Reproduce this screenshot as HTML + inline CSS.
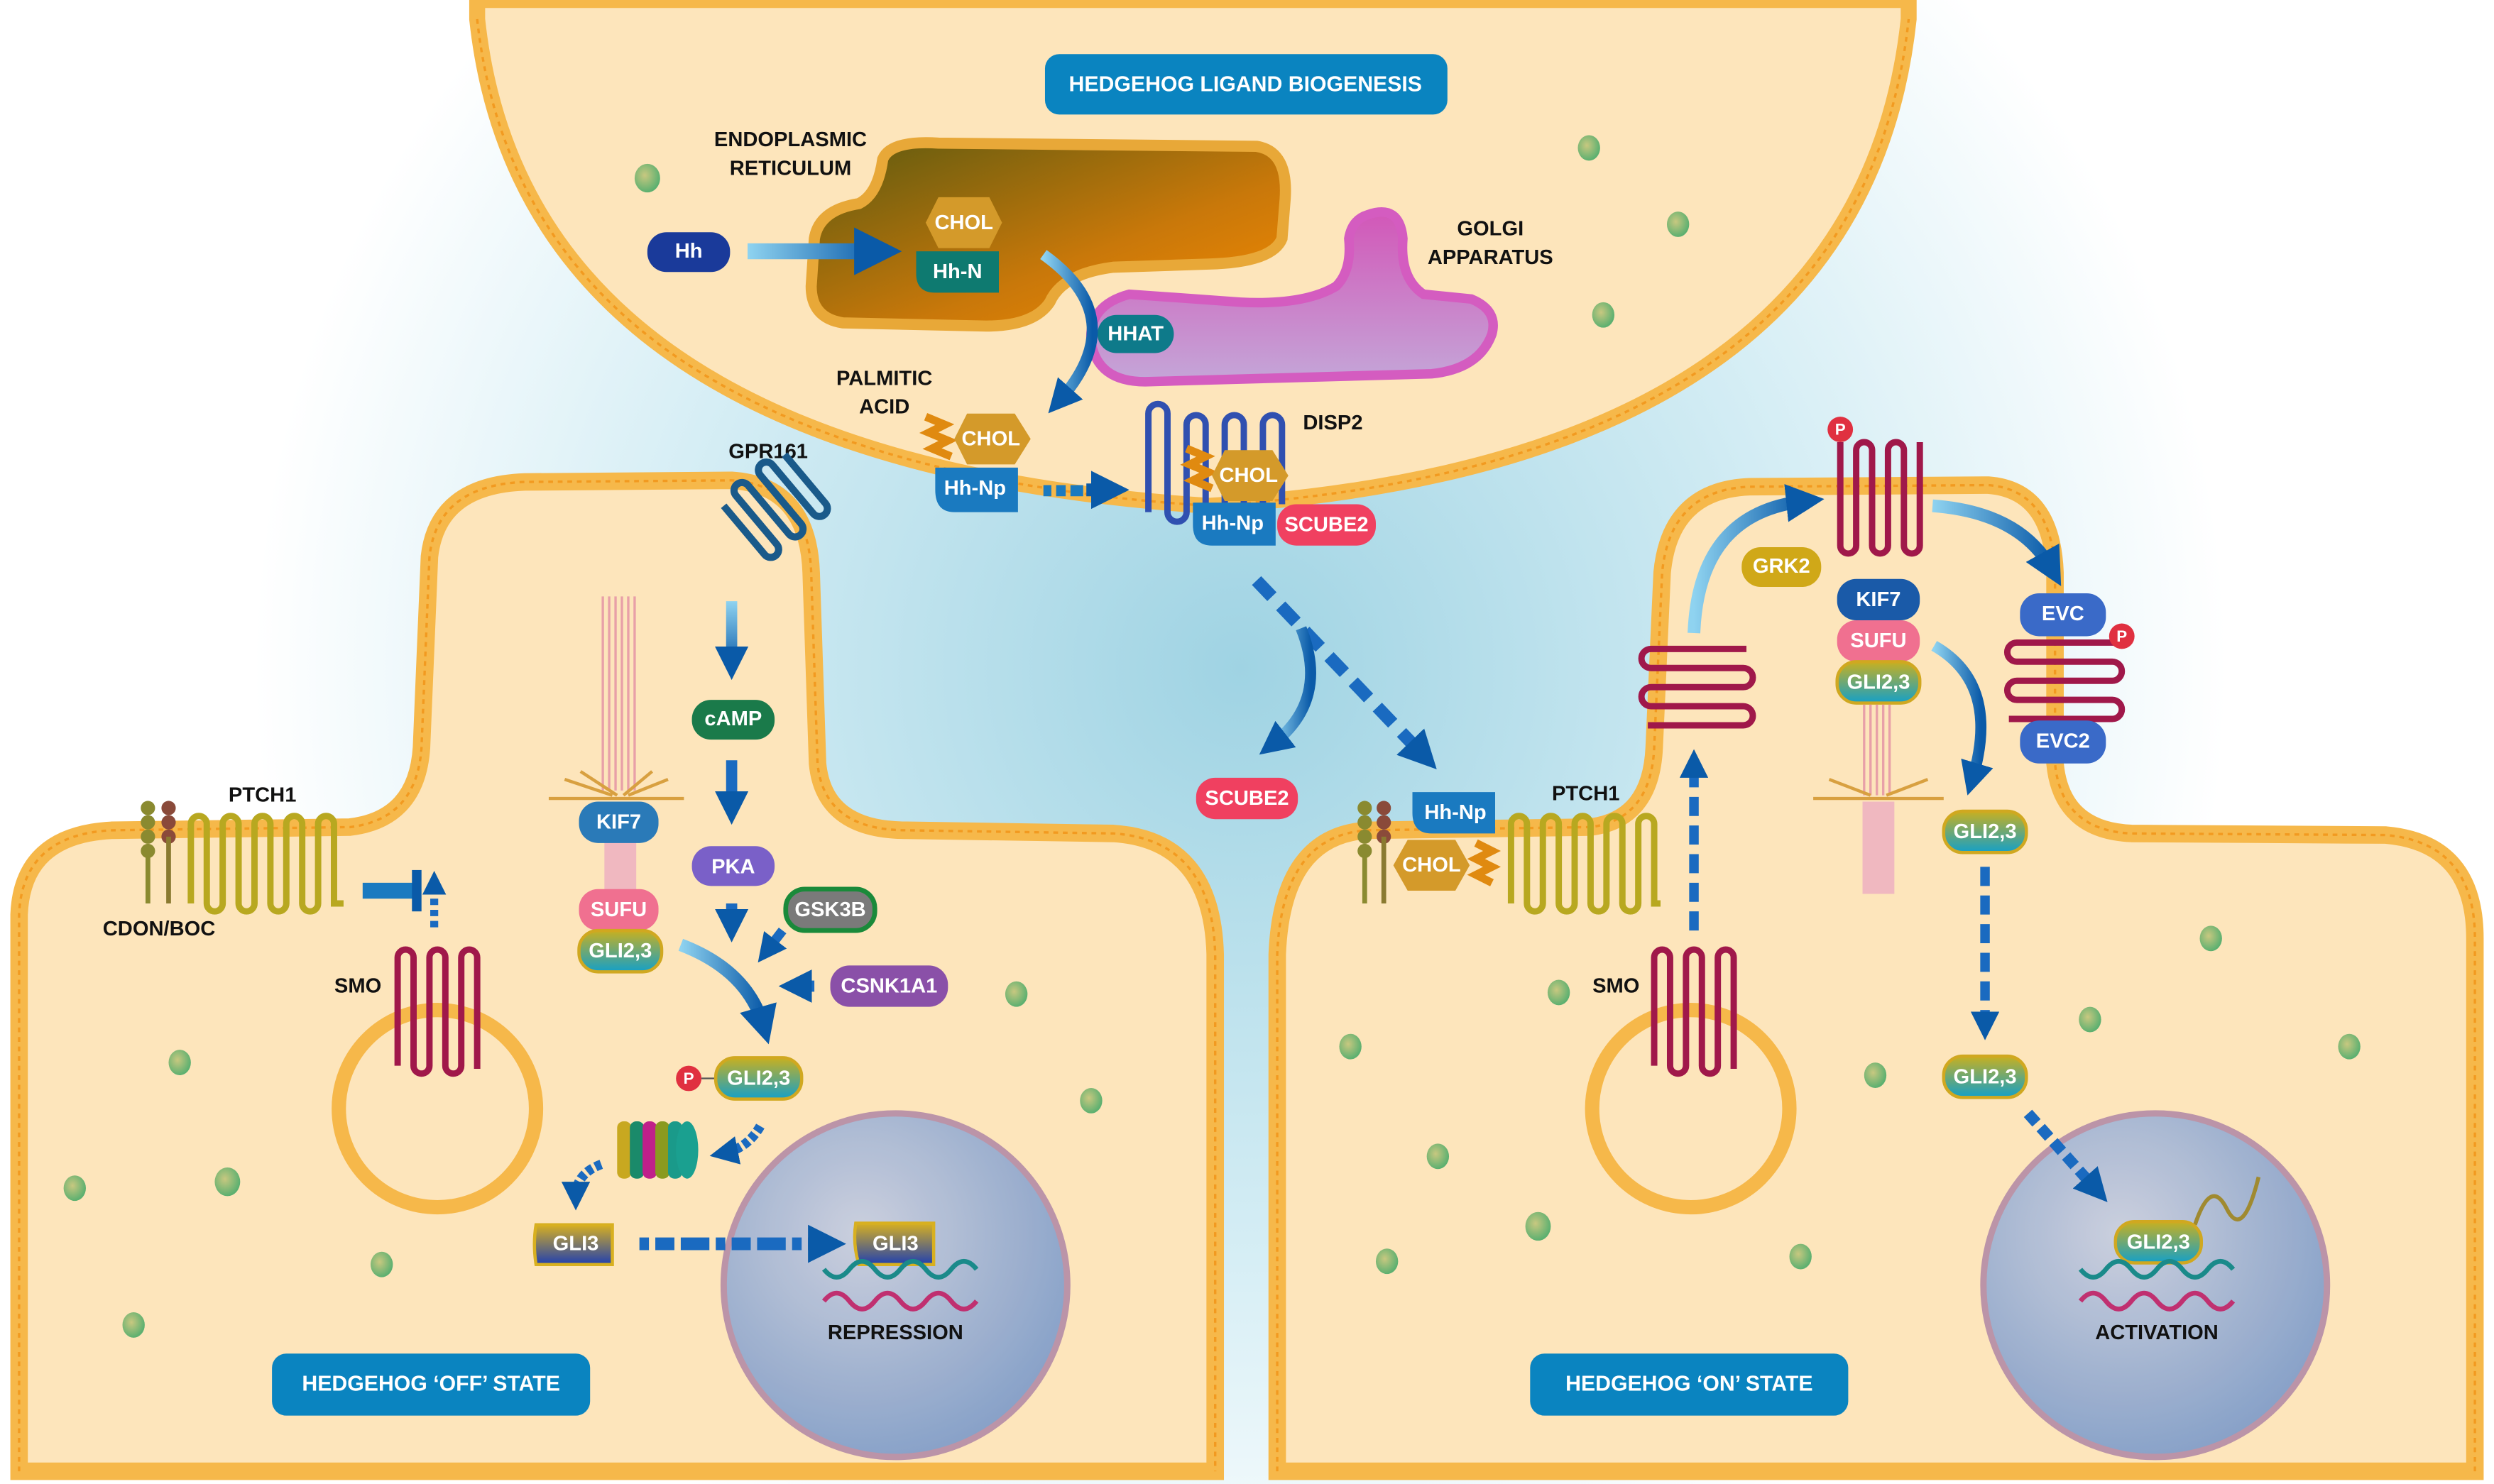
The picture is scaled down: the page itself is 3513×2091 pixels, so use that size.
<!DOCTYPE html>
<html><head><meta charset="utf-8"><style>
html,body{margin:0;padding:0;background:#fff}
svg{display:block}
.t{font-family:"Liberation Sans Narrow","Liberation Sans",sans-serif;font-weight:bold;font-size:13px;fill:#fff;text-anchor:middle;dominant-baseline:central}
.k{font-family:"Liberation Sans Narrow","Liberation Sans",sans-serif;font-weight:bold;font-size:13px;fill:#111;text-anchor:middle}
.b{font-family:"Liberation Sans Narrow","Liberation Sans",sans-serif;font-weight:bold;font-size:13.5px;fill:#fff;text-anchor:middle;dominant-baseline:central}
</style></head><body>
<svg width="3513" height="2091" viewBox="0 0 1568 933" preserveAspectRatio="none" xmlns="http://www.w3.org/2000/svg">
<defs>
<radialGradient id="bg" cx="780" cy="420" r="620" gradientUnits="userSpaceOnUse">
<stop offset="0" stop-color="#9fd3e3"/><stop offset="0.6" stop-color="#d6eef5"/><stop offset="1" stop-color="#ffffff"/></radialGradient>
<radialGradient id="nuc" cx="0.4" cy="0.35" r="0.7"><stop offset="0" stop-color="#c9cfe0"/><stop offset="1" stop-color="#7f9cc8"/></radialGradient>
<linearGradient id="er" x1="0" y1="0" x2="1" y2="1"><stop offset="0" stop-color="#5c5a10"/><stop offset="0.6" stop-color="#c9780a"/><stop offset="1" stop-color="#f58a00"/></linearGradient>
<linearGradient id="go" x1="0" y1="0" x2="0" y2="1"><stop offset="0" stop-color="#d257b8"/><stop offset="1" stop-color="#c4a6d8"/></linearGradient>
<linearGradient id="ar" x1="0" y1="0" x2="1" y2="0"><stop offset="0" stop-color="#8fd3f0"/><stop offset="1" stop-color="#0a5aa8"/></linearGradient>
<linearGradient id="arh" gradientUnits="userSpaceOnUse" x1="470" y1="0" x2="555" y2="0"><stop offset="0" stop-color="#8fd3f0"/><stop offset="1" stop-color="#0a5aa8"/></linearGradient>
<linearGradient id="arv" gradientUnits="userSpaceOnUse" x1="0" y1="378" x2="0" y2="420"><stop offset="0" stop-color="#8fd3f0"/><stop offset="1" stop-color="#0a5aa8"/></linearGradient>
<linearGradient id="gli" x1="0" y1="0" x2="0" y2="1"><stop offset="0" stop-color="#c8b020"/><stop offset="1" stop-color="#14a0c8"/></linearGradient>
<linearGradient id="gli3" x1="0" y1="0" x2="0" y2="1"><stop offset="0" stop-color="#d8b020"/><stop offset="1" stop-color="#2040b0"/></linearGradient>
<radialGradient id="dot" cx="0.4" cy="0.4" r="0.6"><stop offset="0" stop-color="#c8c880"/><stop offset="1" stop-color="#5cb070"/></radialGradient>
<marker id="ah" viewBox="0 0 10 10" refX="5" refY="5" markerWidth="3" markerHeight="3" orient="auto"><path d="M0,0 L10,5 L0,10 z" fill="#0a5aa8"/></marker>
</defs>
<rect width="1568" height="933" fill="url(#bg)"/>

<!-- top cell -->
<path d="M300,0 L300,12 Q330,290 760,318 Q1170,292 1200,12 L1200,0 Z" fill="#fde5bb" stroke="#f6b84a" stroke-width="10"/>
<path d="M300,12 Q330,290 760,318 Q1170,292 1200,12" fill="none" stroke="#f29a20" stroke-width="1.5" stroke-dasharray="3 3"/>
<!-- left cell -->
<path d="M12,925 L12,575 Q14,525 70,522 L220,520 Q262,515 265,470 L270,350 Q275,305 330,303 L460,302 Q508,305 510,360 L514,480 Q518,522 570,522 L700,524 Q762,528 764,600 L764,925 Z" fill="#fde5bb" stroke="#f6b84a" stroke-width="11"/>
<path d="M12,925 L12,575 Q14,525 70,522 L220,520 Q262,515 265,470 L270,350 Q275,305 330,303 L460,302 Q508,305 510,360 L514,480 Q518,522 570,522 L700,524 Q762,528 764,600 L764,925" fill="none" stroke="#f29a20" stroke-width="1.5" stroke-dasharray="3 3"/>
<!-- right cell -->
<path d="M803,925 L803,600 Q806,525 860,522 L1000,520 Q1038,515 1040,470 L1045,360 Q1050,308 1100,306 L1250,305 Q1290,308 1292,360 L1292,480 Q1296,522 1340,524 L1500,525 Q1556,530 1556,590 L1556,925 Z" fill="#fde5bb" stroke="#f6b84a" stroke-width="11"/>
<path d="M803,925 L803,600 Q806,525 860,522 L1000,520 Q1038,515 1040,470 L1045,360 Q1050,308 1100,306 L1250,305 Q1290,308 1292,360 L1292,480 Q1296,522 1340,524 L1500,525 Q1556,530 1556,590 L1556,925" fill="none" stroke="#f29a20" stroke-width="1.5" stroke-dasharray="3 3"/>

<!-- nuclei -->
<circle cx="563" cy="808" r="108" fill="url(#nuc)" stroke="#b890a8" stroke-width="4" opacity="0.95"/>
<circle cx="1355" cy="808" r="108" fill="url(#nuc)" stroke="#b890a8" stroke-width="4" opacity="0.95"/>
<!-- vesicles -->
<circle cx="275" cy="697" r="62" fill="none" stroke="#f6b84a" stroke-width="9"/>
<circle cx="1063" cy="697" r="62" fill="none" stroke="#f6b84a" stroke-width="9"/>

<!-- green dots -->
<g fill="url(#dot)">
<ellipse cx="407" cy="112" rx="8" ry="9"/><ellipse cx="999" cy="93" rx="7" ry="8"/><ellipse cx="1055" cy="141" rx="7" ry="8"/><ellipse cx="1008" cy="198" rx="7" ry="8"/>
<ellipse cx="113" cy="668" rx="7" ry="8"/><ellipse cx="47" cy="747" rx="7" ry="8"/><ellipse cx="143" cy="743" rx="8" ry="9"/><ellipse cx="240" cy="795" rx="7" ry="8"/><ellipse cx="84" cy="833" rx="7" ry="8"/>
<ellipse cx="639" cy="625" rx="7" ry="8"/><ellipse cx="686" cy="692" rx="7" ry="8"/>
<ellipse cx="849" cy="658" rx="7" ry="8"/><ellipse cx="980" cy="624" rx="7" ry="8"/><ellipse cx="904" cy="727" rx="7" ry="8"/><ellipse cx="967" cy="771" rx="8" ry="9"/><ellipse cx="872" cy="793" rx="7" ry="8"/><ellipse cx="1132" cy="790" rx="7" ry="8"/>
<ellipse cx="1179" cy="676" rx="7" ry="8"/><ellipse cx="1314" cy="641" rx="7" ry="8"/><ellipse cx="1390" cy="590" rx="7" ry="8"/><ellipse cx="1477" cy="658" rx="7" ry="8"/>
</g>

<!-- label boxes -->
<rect x="657" y="34" width="253" height="38" rx="9" fill="#0a84c0"/><text class="b" x="783" y="53">HEDGEHOG LIGAND BIOGENESIS</text>
<rect x="171" y="851" width="200" height="39" rx="9" fill="#0a84c0"/><text class="b" x="271" y="870">HEDGEHOG ‘OFF’ STATE</text>
<rect x="962" y="851" width="200" height="39" rx="9" fill="#0a84c0"/><text class="b" x="1062" y="870">HEDGEHOG ‘ON’ STATE</text>

<!-- ER and Golgi -->
<path d="M555,100 Q560,88 590,90 L790,92 Q810,95 808,125 L806,150 Q800,165 760,166 L700,168 Q668,172 660,190 Q650,205 620,205 L530,203 Q510,200 510,180 L512,150 Q515,132 540,128 Q552,122 555,100 Z" fill="url(#er)" stroke="#e8a838" stroke-width="7"/>
<path d="M860,135 Q880,128 882,150 Q880,175 895,185 L925,188 Q942,195 938,210 Q930,232 900,235 L720,240 Q690,240 686,215 Q684,192 710,185 L780,190 Q820,192 840,180 Q850,170 848,150 Q850,138 860,135 Z" fill="url(#go)" stroke="#d45cc0" stroke-width="6"/>
<text class="k" x="497" y="92">ENDOPLASMIC</text><text class="k" x="497" y="110">RETICULUM</text>
<text class="k" x="937" y="148">GOLGI</text><text class="k" x="937" y="166">APPARATUS</text>

<rect x="407" y="146" width="52" height="25" rx="12" fill="#1a3a9a"/><text class="t" x="433" y="158">Hh</text>
<path d="M470,158 L552,158" stroke="url(#arh)" stroke-width="10" marker-end="url(#ah)"/>
<polygon points="590,124 622,124 630,140 622,156 590,156 582,140" fill="#d49a2a"/><text class="t" x="606" y="140">CHOL</text>
<path d="M576,158 L628,158 L628,184 L588,184 Q576,184 576,172 Z" fill="#0e7a70"/><text class="t" x="602" y="171">Hh-N</text>
<rect x="690" y="198" width="48" height="24" rx="12" fill="#0e7a8a"/><text class="t" x="714" y="210">HHAT</text>
<path d="M656,160 Q712,200 666,252" fill="none" stroke="url(#ar)" stroke-width="7" marker-end="url(#ah)"/>

<text class="k" x="556" y="242">PALMITIC</text><text class="k" x="556" y="260">ACID</text>
<path d="M582,262 l12,5 -10,5 12,5 -10,5 12,5" fill="none" stroke="#e08a10" stroke-width="5"/>
<polygon points="608,260 638,260 648,276 638,292 608,292 600,276" fill="#d49a2a"/><text class="t" x="623" y="276">CHOL</text>
<path d="M588,294 L640,294 L640,322 L600,322 Q588,322 588,308 Z" fill="#1a7ac0"/><text class="t" x="613" y="307">Hh-Np</text>
<g fill="#1a7ac0"><rect x="656" y="305" width="5" height="7"/><rect x="664" y="305" width="6" height="7"/><rect x="673" y="305" width="8" height="7"/></g>
<path d="M683,308 L698,308" stroke="#0a5aa8" stroke-width="8" marker-end="url(#ah)"/>

<path d="M722,322 v-62 a6,6 0 0 1 12,0 v62 a6,6 0 0 0 12,0 v-55 a6,6 0 0 1 12,0 v55 a6,6 0 0 0 12,0 v-55 a6,6 0 0 1 12,0 v55 a6,6 0 0 0 12,0 v-55 a6,6 0 0 1 12,0 v50" fill="none" stroke="#3050b0" stroke-width="4"/>
<text class="k" x="838" y="270">DISP2</text>
<path d="M746,282 l12,5 -10,5 12,5 -10,5 12,5" fill="none" stroke="#e08a10" stroke-width="5"/>
<polygon points="770,283 800,283 810,299 800,315 770,315 762,299" fill="#d49a2a"/><text class="t" x="785" y="299">CHOL</text>
<path d="M750,316 L802,316 L802,343 L762,343 Q750,343 750,330 Z" fill="#1a7ac0"/><text class="t" x="775" y="329">Hh-Np</text>
<rect x="803" y="317" width="62" height="26" rx="12" fill="#f04060"/><text class="t" x="834" y="330">SCUBE2</text>

<path d="M790,365 L895,475" stroke="#1a6ac0" stroke-width="8" stroke-dasharray="14 8" marker-end="url(#ah)"/>
<path d="M818,395 Q836,440 800,468" fill="none" stroke="url(#ar)" stroke-width="7" marker-end="url(#ah)"/>
<rect x="752" y="489" width="64" height="26" rx="12" fill="#f04060"/><text class="t" x="784" y="502">SCUBE2</text>

<!-- LEFT CELL content -->
<text class="k" x="483" y="288">GPR161</text>
<g transform="translate(455,318) rotate(-40)"><path d="M0,0 v40 a5,5 0 0 0 10,0 v-40 a5,5 0 0 1 10,0 v40 a5,5 0 0 0 10,0 v-40 a5,5 0 0 1 10,0 v40 a5,5 0 0 0 10,0 v-40" fill="none" stroke="#1a5a8a" stroke-width="4.5"/></g>
<path d="M460,378 L460,417" stroke="url(#arv)" stroke-width="7" marker-end="url(#ah)"/>
<rect x="435" y="440" width="52" height="25" rx="12" fill="#1a7a4a"/><text class="t" x="461" y="452">cAMP</text>
<path d="M460,478 L460,508" stroke="#1a6ac0" stroke-width="7" marker-end="url(#ah)"/>
<rect x="435" y="532" width="52" height="25" rx="12" fill="#7a60c8"/><text class="t" x="461" y="545">PKA</text>
<path d="M460,568 L460,582" stroke="#1a6ac0" stroke-width="7" marker-end="url(#ah)"/>
<rect x="494" y="559" width="56" height="26" rx="12" fill="#7a7a7a" stroke="#1a8a3a" stroke-width="3"/><text class="t" x="522" y="572">GSK3B</text>
<path d="M492,585 L482,598" stroke="#1a6ac0" stroke-width="6" marker-end="url(#ah)"/>
<rect x="522" y="607" width="74" height="26" rx="12" fill="#8a50a8"/><text class="t" x="559" y="620">CSNK1A1</text>
<path d="M512,620 L500,620" stroke="#1a6ac0" stroke-width="7" marker-end="url(#ah)"/>
<path d="M428,594 Q470,610 480,645" fill="none" stroke="url(#ar)" stroke-width="8" marker-end="url(#ah)"/>

<g stroke="#e8a0a8" stroke-width="1.5"><line x1="379" y1="375" x2="379" y2="497"/><line x1="383" y1="375" x2="383" y2="497"/><line x1="387" y1="375" x2="387" y2="497"/><line x1="391" y1="375" x2="391" y2="497"/><line x1="395" y1="375" x2="395" y2="497"/><line x1="399" y1="375" x2="399" y2="497"/></g>
<g stroke="#d8a040" stroke-width="2"><line x1="345" y1="502" x2="430" y2="502"/><line x1="355" y1="490" x2="385" y2="500"/><line x1="420" y1="490" x2="395" y2="500"/><line x1="365" y1="485" x2="388" y2="500"/><line x1="410" y1="485" x2="392" y2="500"/></g>
<rect x="380" y="528" width="20" height="34" fill="#f0b8c0"/>
<rect x="364" y="504" width="50" height="26" rx="12" fill="#2a7ab8"/><text class="t" x="389" y="517">KIF7</text>
<rect x="364" y="559" width="50" height="26" rx="12" fill="#f07090"/><text class="t" x="389" y="572">SUFU</text>
<rect x="364" y="585" width="52" height="26" rx="12" fill="url(#gli)" stroke="#d0a820" stroke-width="2"/><text class="t" x="390" y="598">GLI2,3</text>

<g fill="#8a8a30"><circle cx="93" cy="508" r="4.5"/><circle cx="93" cy="517" r="4.5"/><circle cx="93" cy="526" r="4.5"/><circle cx="93" cy="535" r="4.5"/></g>
<g fill="#8a4a3a"><circle cx="106" cy="508" r="4.5"/><circle cx="106" cy="517" r="4.5"/><circle cx="106" cy="526" r="4.5"/></g>
<line x1="93" y1="535" x2="93" y2="568" stroke="#8a8a30" stroke-width="3"/><line x1="106" y1="526" x2="106" y2="568" stroke="#8a7a30" stroke-width="3"/>
<path d="M120,568 v-50 a5,5 0 0 1 10,0 v50 a5,5 0 0 0 10,0 v-50 a5,5 0 0 1 10,0 v50 a5,5 0 0 0 10,0 v-50 a5,5 0 0 1 10,0 v50 a5,5 0 0 0 10,0 v-50 a5,5 0 0 1 10,0 v50 a5,5 0 0 0 10,0 v-50 a5,5 0 0 1 10,0 v50 h6" fill="none" stroke="#b8a820" stroke-width="4"/>
<text class="k" x="165" y="504">PTCH1</text><text class="k" x="100" y="588">CDON/BOC</text>
<rect x="228" y="555" width="32" height="10" fill="#1a7ac0"/><rect x="259" y="547" width="6" height="26" fill="#0a5aa8"/>
<path d="M273,583 L273,555" stroke="#1a6ac0" stroke-width="5" stroke-dasharray="4 3" marker-end="url(#ah)"/>
<path d="M250,670 v-68 a5,5 0 0 1 10,0 v68 a5,5 0 0 0 10,0 v-68 a5,5 0 0 1 10,0 v68 a5,5 0 0 0 10,0 v-68 a5,5 0 0 1 10,0 v70" fill="none" stroke="#a0184a" stroke-width="4"/>
<text class="k" x="225" y="624">SMO</text>

<circle cx="433" cy="678" r="8" fill="#e03040"/><text class="t" x="433" y="678" style="font-size:10px">P</text>
<line x1="441" y1="678" x2="450" y2="678" stroke="#555"/>
<rect x="450" y="665" width="54" height="26" rx="12" fill="url(#gli)" stroke="#d0a820" stroke-width="2"/><text class="t" x="477" y="678">GLI2,3</text>
<g><rect x="388" y="705" width="9" height="36" rx="4" fill="#c8a820"/><rect x="396" y="705" width="9" height="36" rx="4" fill="#1a8a6a"/><rect x="404" y="705" width="9" height="36" rx="4" fill="#c0208a"/><rect x="412" y="705" width="9" height="36" rx="4" fill="#8a9a20"/><rect x="420" y="705" width="9" height="36" rx="4" fill="#1a9a8a"/><ellipse cx="432" cy="723" rx="7" ry="18" fill="#1aa090"/></g>
<path d="M478,708 Q470,722 455,725" fill="none" stroke="#1a6ac0" stroke-width="6" stroke-dasharray="4 2" marker-end="url(#ah)"/>
<path d="M378,732 Q362,738 362,752" fill="none" stroke="#1a6ac0" stroke-width="6" stroke-dasharray="4 2" marker-end="url(#ah)"/>
<path d="M337,770 L385,770 L385,795 L337,795 Q335,782 337,770 Z" fill="url(#gli3)" stroke="#d8b020" stroke-width="2"/><text class="t" x="362" y="782">GLI3</text>
<path d="M402,782 L520,782" stroke="#1a6ac0" stroke-width="8" stroke-dasharray="6 4 12 4 18 4" marker-end="url(#ah)"/>
<path d="M538,769 L587,769 L587,795 L540,795 Q536,782 538,769 Z" fill="url(#gli3)" stroke="#d8b020" stroke-width="2"/><text class="t" x="563" y="782">GLI3</text>
<g fill="none" stroke-width="3"><path d="M518,798 q8,10 16,0 t16,0 t16,0 t16,0 t16,0 t16,0" stroke="#1a8a8a"/><path d="M518,818 q8,-10 16,0 t16,0 t16,0 t16,0 t16,0 t16,0" stroke="#c03070"/></g>
<text class="k" x="563" y="842">REPRESSION</text>

<!-- RIGHT CELL -->
<g fill="#8a8a30"><circle cx="858" cy="508" r="4.5"/><circle cx="858" cy="517" r="4.5"/><circle cx="858" cy="526" r="4.5"/><circle cx="858" cy="535" r="4.5"/></g>
<g fill="#8a4a3a"><circle cx="870" cy="508" r="4.5"/><circle cx="870" cy="517" r="4.5"/><circle cx="870" cy="526" r="4.5"/></g>
<line x1="858" y1="535" x2="858" y2="568" stroke="#8a8a30" stroke-width="3"/><line x1="870" y1="526" x2="870" y2="568" stroke="#8a7a30" stroke-width="3"/>
<path d="M950,568 v-50 a5,5 0 0 1 10,0 v50 a5,5 0 0 0 10,0 v-50 a5,5 0 0 1 10,0 v50 a5,5 0 0 0 10,0 v-50 a5,5 0 0 1 10,0 v50 a5,5 0 0 0 10,0 v-50 a5,5 0 0 1 10,0 v50 a5,5 0 0 0 10,0 v-50 a5,5 0 0 1 10,0 v50 h4" fill="none" stroke="#b8a820" stroke-width="4"/>
<text class="k" x="997" y="503">PTCH1</text>
<path d="M888,498 L940,498 L940,524 L900,524 Q888,524 888,511 Z" fill="#1a7ac0"/><text class="t" x="915" y="511">Hh-Np</text>
<polygon points="885,528 915,528 924,544 915,560 885,560 876,544" fill="#d49a2a"/><text class="t" x="900" y="544">CHOL</text>
<path d="M928,530 l10,5 -10,5 10,5 -10,5 10,5" fill="none" stroke="#e08a10" stroke-width="5"/>

<path d="M1040,670 v-68 a5,5 0 0 1 10,0 v68 a5,5 0 0 0 10,0 v-68 a5,5 0 0 1 10,0 v68 a5,5 0 0 0 10,0 v-68 a5,5 0 0 1 10,0 v70" fill="none" stroke="#a0184a" stroke-width="4"/>
<text class="k" x="1016" y="624">SMO</text>
<path d="M1065,585 L1065,480" stroke="#1a6ac0" stroke-width="6" stroke-dasharray="12 6" marker-end="url(#ah)"/>
<path d="M1098,408 h-60 a6,6 0 0 0 0,12 h58 a6,6 0 0 1 0,12 h-58 a6,6 0 0 0 0,12 h58 a6,6 0 0 1 0,12 h-60" fill="none" stroke="#a0184a" stroke-width="4"/>
<path d="M1065,398 Q1068,322 1135,315" fill="none" stroke="url(#ar)" stroke-width="8" marker-end="url(#ah)"/>
<circle cx="1157" cy="270" r="8" fill="#e03040"/><text class="t" x="1157" y="270" style="font-size:10px">P</text>
<path d="M1157,278 v65 a5,5 0 0 0 10,0 v-60 a5,5 0 0 1 10,0 v60 a5,5 0 0 0 10,0 v-60 a5,5 0 0 1 10,0 v60 a5,5 0 0 0 10,0 v-65" fill="none" stroke="#a0184a" stroke-width="4"/>
<rect x="1095" y="344" width="50" height="25" rx="12" fill="#d0a818"/><text class="t" x="1120" y="356">GRK2</text>
<path d="M1215,318 Q1270,322 1290,358" fill="none" stroke="url(#ar)" stroke-width="8" marker-end="url(#ah)"/>
<rect x="1155" y="364" width="52" height="26" rx="12" fill="#1a5aa8"/><text class="t" x="1181" y="377">KIF7</text>
<rect x="1155" y="390" width="52" height="26" rx="12" fill="#f07090"/><text class="t" x="1181" y="403">SUFU</text>
<rect x="1155" y="416" width="52" height="26" rx="12" fill="url(#gli)" stroke="#d0a820" stroke-width="2"/><text class="t" x="1181" y="429">GLI2,3</text>
<g stroke="#e8a0a8" stroke-width="1.5"><line x1="1172" y1="443" x2="1172" y2="500"/><line x1="1176" y1="443" x2="1176" y2="500"/><line x1="1180" y1="443" x2="1180" y2="500"/><line x1="1184" y1="443" x2="1184" y2="500"/><line x1="1188" y1="443" x2="1188" y2="500"/></g>
<g stroke="#d8a040" stroke-width="2"><line x1="1140" y1="502" x2="1222" y2="502"/><line x1="1150" y1="490" x2="1176" y2="500"/><line x1="1212" y1="490" x2="1186" y2="500"/></g>
<rect x="1171" y="504" width="20" height="58" fill="#f0b8c0"/>
<path d="M1216,406 Q1258,430 1240,490" fill="none" stroke="url(#ar)" stroke-width="7" marker-end="url(#ah)"/>
<rect x="1270" y="373" width="54" height="27" rx="12" fill="#3a6ac8"/><text class="t" x="1297" y="386">EVC</text>
<path d="M1330,404 h-62 a6,6 0 0 0 0,12 h60 a6,6 0 0 1 0,12 h-60 a6,6 0 0 0 0,12 h60 a6,6 0 0 1 0,12 h-65" fill="none" stroke="#a0184a" stroke-width="4"/>
<circle cx="1334" cy="400" r="8" fill="#e03040"/><text class="t" x="1334" y="400" style="font-size:10px">P</text>
<rect x="1270" y="453" width="54" height="27" rx="12" fill="#3a6ac8"/><text class="t" x="1297" y="466">EVC2</text>
<rect x="1222" y="510" width="52" height="26" rx="12" fill="url(#gli)" stroke="#d0a820" stroke-width="2"/><text class="t" x="1248" y="523">GLI2,3</text>
<path d="M1248,545 L1248,645" stroke="#1a6ac0" stroke-width="6" stroke-dasharray="12 6" marker-end="url(#ah)"/>
<rect x="1222" y="664" width="52" height="26" rx="12" fill="url(#gli)" stroke="#d0a820" stroke-width="2"/><text class="t" x="1248" y="677">GLI2,3</text>
<path d="M1275,700 L1318,748" stroke="#1a6ac0" stroke-width="7" stroke-dasharray="8 4" marker-end="url(#ah)"/>
<path d="M1380,770 q10,-30 20,-10 t20,-20" fill="none" stroke="#a08a30" stroke-width="2.5"/>
<rect x="1330" y="768" width="54" height="26" rx="12" fill="url(#gli)" stroke="#d0a820" stroke-width="2"/><text class="t" x="1357" y="781">GLI2,3</text>
<g fill="none" stroke-width="3"><path d="M1308,798 q8,10 16,0 t16,0 t16,0 t16,0 t16,0 t16,0" stroke="#1a8a8a"/><path d="M1308,818 q8,-10 16,0 t16,0 t16,0 t16,0 t16,0 t16,0" stroke="#c03070"/></g>
<text class="k" x="1356" y="842">ACTIVATION</text>
</svg>
</body></html>
